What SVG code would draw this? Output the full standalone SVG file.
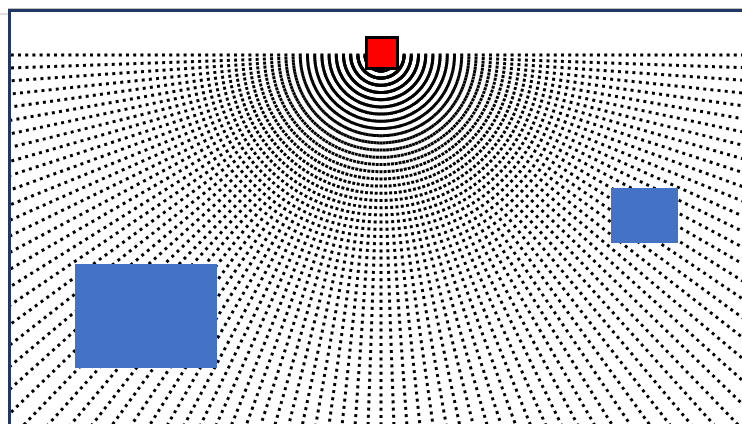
<svg xmlns="http://www.w3.org/2000/svg" xmlns:xlink="http://www.w3.org/1999/xlink" width="742" height="424" viewBox="0 0 742 424">
<style>
.ray{stroke:#000;stroke-width:3;stroke-dasharray:3 4.2;fill:none}
.blue{fill:#4472C4}
.frame{fill:none;stroke:#1F3864;stroke-width:3}
</style>
<defs>
<clipPath id="inner"><rect x="11" y="12" width="731" height="412"/></clipPath>
<line id="r" x1="0" y1="0" x2="900" y2="0" class="ray"/>
</defs>
<rect width="742" height="424" fill="#fff"/>
<line x1="0" y1="14" x2="8" y2="14" stroke="#bfbfbf" stroke-width="1"/>
<line x1="8" y1="8.5" x2="742" y2="8.5" stroke="#bfbfbf" stroke-width="1"/>
<g id="connectors" clip-path="url(#inner)">
<g transform="translate(381,55)">
<use xlink:href="#r" transform="rotate(0)"/><use xlink:href="#r" transform="rotate(2)"/><use xlink:href="#r" transform="rotate(4)"/><use xlink:href="#r" transform="rotate(6)"/><use xlink:href="#r" transform="rotate(8)"/><use xlink:href="#r" transform="rotate(10)"/><use xlink:href="#r" transform="rotate(12)"/><use xlink:href="#r" transform="rotate(14)"/><use xlink:href="#r" transform="rotate(16)"/><use xlink:href="#r" transform="rotate(18)"/>
<use xlink:href="#r" transform="rotate(20)"/><use xlink:href="#r" transform="rotate(22)"/><use xlink:href="#r" transform="rotate(24)"/><use xlink:href="#r" transform="rotate(26)"/><use xlink:href="#r" transform="rotate(28)"/><use xlink:href="#r" transform="rotate(30)"/><use xlink:href="#r" transform="rotate(32)"/><use xlink:href="#r" transform="rotate(34)"/><use xlink:href="#r" transform="rotate(36)"/><use xlink:href="#r" transform="rotate(38)"/>
<use xlink:href="#r" transform="rotate(40)"/><use xlink:href="#r" transform="rotate(42)"/><use xlink:href="#r" transform="rotate(44)"/><use xlink:href="#r" transform="rotate(46)"/><use xlink:href="#r" transform="rotate(48)"/><use xlink:href="#r" transform="rotate(50)"/><use xlink:href="#r" transform="rotate(52)"/><use xlink:href="#r" transform="rotate(54)"/><use xlink:href="#r" transform="rotate(56)"/><use xlink:href="#r" transform="rotate(58)"/>
<use xlink:href="#r" transform="rotate(60)"/><use xlink:href="#r" transform="rotate(62)"/><use xlink:href="#r" transform="rotate(64)"/><use xlink:href="#r" transform="rotate(66)"/><use xlink:href="#r" transform="rotate(68)"/><use xlink:href="#r" transform="rotate(70)"/><use xlink:href="#r" transform="rotate(72)"/><use xlink:href="#r" transform="rotate(74)"/><use xlink:href="#r" transform="rotate(76)"/><use xlink:href="#r" transform="rotate(78)"/>
<use xlink:href="#r" transform="rotate(80)"/><use xlink:href="#r" transform="rotate(82)"/><use xlink:href="#r" transform="rotate(84)"/><use xlink:href="#r" transform="rotate(86)"/><use xlink:href="#r" transform="rotate(88)"/><use xlink:href="#r" transform="rotate(90)"/><use xlink:href="#r" transform="rotate(92)"/><use xlink:href="#r" transform="rotate(94)"/><use xlink:href="#r" transform="rotate(96)"/><use xlink:href="#r" transform="rotate(98)"/>
<use xlink:href="#r" transform="rotate(100)"/><use xlink:href="#r" transform="rotate(102)"/><use xlink:href="#r" transform="rotate(104)"/><use xlink:href="#r" transform="rotate(106)"/><use xlink:href="#r" transform="rotate(108)"/><use xlink:href="#r" transform="rotate(110)"/><use xlink:href="#r" transform="rotate(112)"/><use xlink:href="#r" transform="rotate(114)"/><use xlink:href="#r" transform="rotate(116)"/><use xlink:href="#r" transform="rotate(118)"/>
<use xlink:href="#r" transform="rotate(120)"/><use xlink:href="#r" transform="rotate(122)"/><use xlink:href="#r" transform="rotate(124)"/><use xlink:href="#r" transform="rotate(126)"/><use xlink:href="#r" transform="rotate(128)"/><use xlink:href="#r" transform="rotate(130)"/><use xlink:href="#r" transform="rotate(132)"/><use xlink:href="#r" transform="rotate(134)"/><use xlink:href="#r" transform="rotate(136)"/><use xlink:href="#r" transform="rotate(138)"/>
<use xlink:href="#r" transform="rotate(140)"/><use xlink:href="#r" transform="rotate(142)"/><use xlink:href="#r" transform="rotate(144)"/><use xlink:href="#r" transform="rotate(146)"/><use xlink:href="#r" transform="rotate(148)"/><use xlink:href="#r" transform="rotate(150)"/><use xlink:href="#r" transform="rotate(152)"/><use xlink:href="#r" transform="rotate(154)"/><use xlink:href="#r" transform="rotate(156)"/><use xlink:href="#r" transform="rotate(158)"/>
<use xlink:href="#r" transform="rotate(160)"/><use xlink:href="#r" transform="rotate(162)"/><use xlink:href="#r" transform="rotate(164)"/><use xlink:href="#r" transform="rotate(166)"/><use xlink:href="#r" transform="rotate(168)"/><use xlink:href="#r" transform="rotate(170)"/><use xlink:href="#r" transform="rotate(172)"/><use xlink:href="#r" transform="rotate(174)"/><use xlink:href="#r" transform="rotate(176)"/><use xlink:href="#r" transform="rotate(178)"/>
<use xlink:href="#r" transform="rotate(180)"/>
</g>
</g>
<g id="frame">
<path class="frame" d="M9.5 430 V10.5 H750"/>
</g>
<g id="source">
<rect x="366.5" y="37.5" width="31" height="31" fill="#FF0000" stroke="#000" stroke-width="3"/>
</g>
<g id="obstacle-left">
<rect class="blue" x="75" y="264" width="142" height="104"/>
</g>
<g id="obstacle-right">
<rect class="blue" x="611" y="188" width="67" height="55"/>
</g>
</svg>
